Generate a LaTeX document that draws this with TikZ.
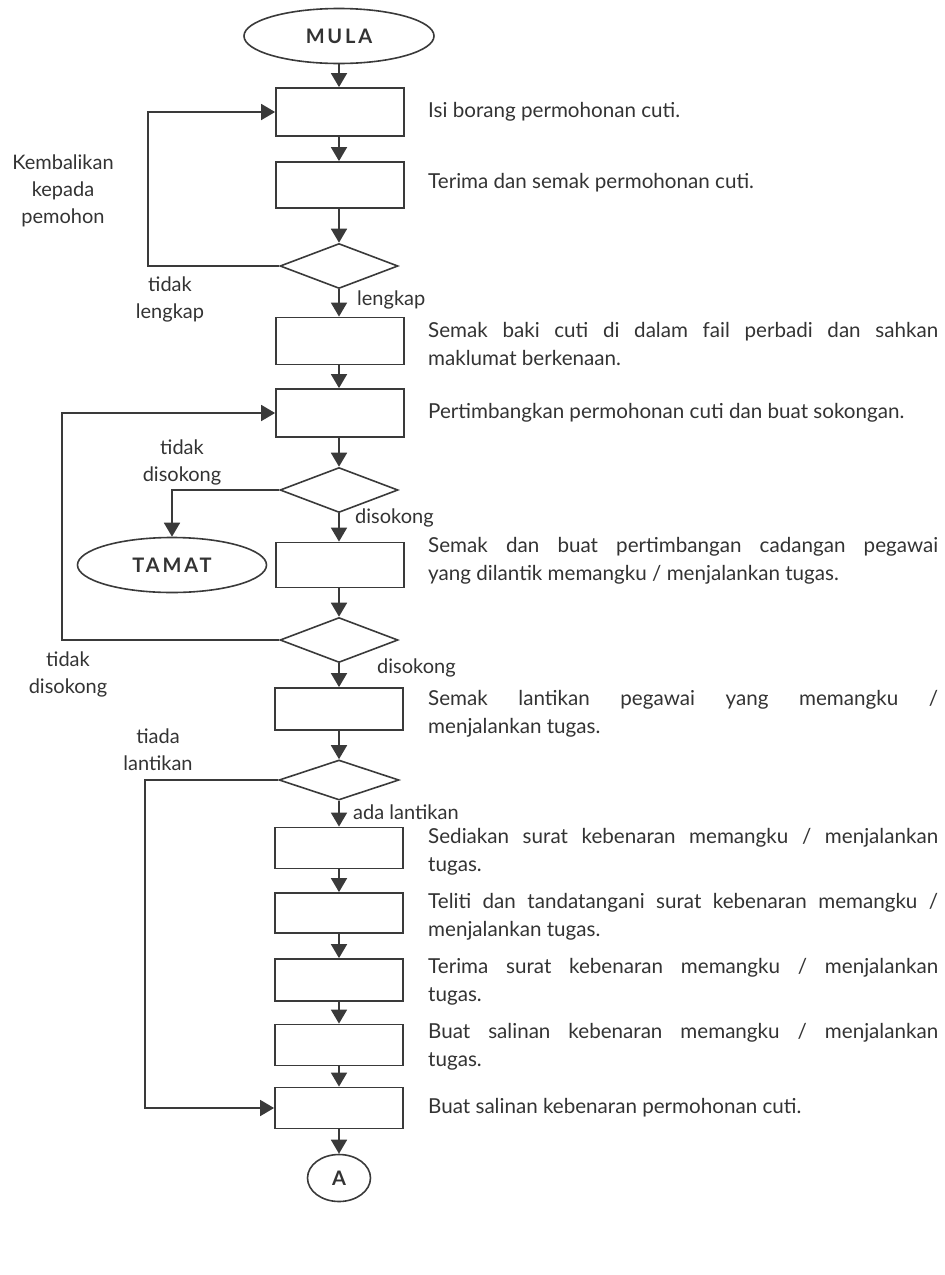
\documentclass[tikz,border=0pt]{standalone}
\usepackage{fontspec}
\setmainfont{Lato}
\usetikzlibrary{shapes.geometric,arrows.meta}
\definecolor{ink}{HTML}{3A3A3A}
\definecolor{txt}{HTML}{333333}
\hyphenpenalty=10000
\exhyphenpenalty=10000
\newcommand{\dbox}[1]{\parbox{510pt}{\leftskip=0pt\rightskip=0pt\parfillskip=0pt plus 1fil\relax #1}}
\begin{document}
\begin{tikzpicture}[x=1pt,y=-1pt,
  every node/.style={text=txt},
  stepbox/.style={draw=ink,line width=1.8pt,rectangle,minimum width=128pt,inner sep=0pt},
  dec/.style={draw=ink,line width=1.6pt,diamond,minimum width=118pt,minimum height=45pt,inner sep=0pt},
  term/.style={draw=ink,line width=1.6pt,ellipse,minimum width=190pt,minimum height=55pt,inner sep=0pt,
     font=\fontsize{20}{22}\selectfont\bfseries\addfontfeature{LetterSpace=14}},
  lbl/.style={font=\fontsize{20}{27}\selectfont,align=center,inner sep=0pt},
  desc/.style={anchor=west,inner sep=0pt,font=\fontsize{20.6}{28}\selectfont},
  flow/.style={draw=ink,line width=1.8pt,-{Triangle[width=16pt,length=14pt]}}]
\useasboundingbox (0,0) rectangle (945,1275);
% main column
\node[term] (mula) at (339,36) {MULA};
\node[stepbox,minimum height=48pt] (b1) at (340,112) {};
\node[stepbox,minimum height=46pt] (b2) at (340,185) {};
\node[dec] (d1) at (339,266) {};
\node[stepbox,minimum height=47pt] (b3) at (340,341) {};
\node[stepbox,minimum height=48pt] (b4) at (340,413) {};
\node[dec] (d2) at (339,490) {};
\node[stepbox,minimum height=45pt] (b5) at (340,565) {};
\node[term,minimum width=189pt] (tamat) at (172,565) {TAMAT};
\node[dec] (d3) at (339,640) {};
\node[stepbox,minimum height=42pt] (b6) at (339,709) {};
\node[dec,minimum height=40pt,minimum width=120pt] (d4) at (339,780) {};
\node[stepbox,minimum height=41pt] (b7) at (339,848) {};
\node[stepbox,minimum height=40pt] (b8) at (339,913) {};
\node[stepbox,minimum height=42pt] (b9) at (339,980) {};
\node[stepbox,minimum height=41pt] (b10) at (339,1045) {};
\node[stepbox,minimum height=41pt] (b11) at (339,1108) {};
\node[draw=ink,line width=1.6pt,ellipse,minimum width=63pt,minimum height=47pt,inner sep=0pt,
      font=\fontsize{20}{22}\selectfont\bfseries] (a) at (339,1178) {A};
% vertical flow (all on the column x of the diamonds)
\draw[flow] (mula.south) -- (b1.north -| mula.south);
\draw[flow] (b1.south -| mula.south) -- (b2.north -| mula.south);
\draw[flow] (b2.south -| d1.north) -- (d1.north);
\draw[flow] (d1.south) -- (b3.north -| d1.south);
\draw[flow] (b3.south -| d1.south) -- (b4.north -| d1.south);
\draw[flow] (b4.south -| d2.north) -- (d2.north);
\draw[flow] (d2.south) -- (b5.north -| d2.south);
\draw[flow] (b5.south -| d3.north) -- (d3.north);
\draw[flow] (d3.south) -- (b6.north -| d3.south);
\draw[flow] (b6.south -| d4.north) -- (d4.north);
\draw[flow] (d4.south) -- (b7.north -| d4.south);
\draw[flow] (b7) -- (b8);
\draw[flow] (b8) -- (b9);
\draw[flow] (b9) -- (b10);
\draw[flow] (b10) -- (b11);
\draw[flow] (b11.south -| a.north) -- (a.north);
% loops
\coordinate (l1) at (148,0);
\draw[flow] (d1.west) -- (d1.west -| l1) -- (b1.west -| l1) -- (b1.west);
\coordinate (l2) at (62,0);
\draw[flow] (d3.west) -- (d3.west -| l2) -- (b4.west -| l2) -- (b4.west);
\draw[flow] (d2.west) -- (d2.west -| tamat.north) -- (tamat.north);
\coordinate (l3) at (145,0);
\draw[flow] (d4.west) -- (d4.west -| l3) -- (b11.west -| l3) -- (b11.west);
% labels
\node[lbl] (k1) at (63,191) {Kembalikan\\kepada\\pemohon};
\node[lbl] (k2) at (170,299) {tidak\\lengkap};
\node[lbl,anchor=west] (k3) at (357,300) {lengkap};
\node[lbl] (k4) at (182,462) {tidak\\disokong};
\node[lbl,anchor=west] (k5) at (355,518) {disokong};
\node[lbl] (k6) at (68,674) {tidak\\disokong};
\node[lbl,anchor=west] (k7) at (377,668) {disokong};
\node[lbl] (k8) at (158,750) {tiada\\lantikan};
\node[lbl,anchor=west] (k9) at (353,812) {ada lantikan};
% descriptions
\node[desc] (t1) at (428,112) {\dbox{Isi borang permohonan cuti.}};
\node[desc] (t2) at (428,183) {\dbox{Terima dan semak permohonan cuti.}};
\node[desc] (t3) at (428,344) {\dbox{Semak baki cuti di dalam fail perbadi dan sahkan\linebreak maklumat berkenaan.}};
\node[desc] (t4) at (428,413) {\dbox{Pertimbangkan permohonan cuti dan buat sokongan.}};
\node[desc] (t5) at (428,561) {\dbox{Semak dan buat pertimbangan cadangan pegawai\linebreak yang dilantik memangku / menjalankan tugas.}};
\node[desc] (t6) at (428,714) {\dbox{Semak lantikan pegawai yang memangku /\linebreak menjalankan tugas.}};
\node[desc] (t7) at (428,852) {\dbox{Sediakan surat kebenaran memangku / menjalankan\linebreak tugas.}};
\node[desc] (t8) at (428,917) {\dbox{Teliti dan tandatangani surat kebenaran memangku /\linebreak menjalankan tugas.}};
\node[desc] (t9) at (428,982) {\dbox{Terima surat kebenaran memangku / menjalankan\linebreak tugas.}};
\node[desc] (t10) at (428,1047) {\dbox{Buat salinan kebenaran memangku / menjalankan\linebreak tugas.}};
\node[desc] (t11) at (428,1108) {\dbox{Buat salinan kebenaran permohonan cuti.}};
\end{tikzpicture}
\end{document}
